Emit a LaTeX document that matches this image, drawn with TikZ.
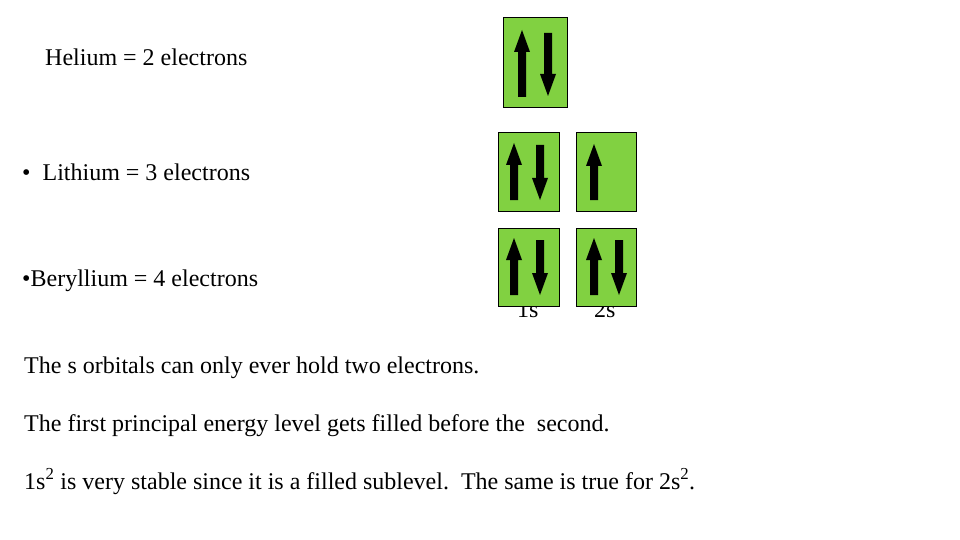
\documentclass[tikz,border=0pt]{standalone}
\usepackage{fontspec}
\setmainfont{Liberation Serif}
\definecolor{boxg}{RGB}{129,209,65}
\newcommand\upar[3]{\fill (#1-4,#3) -- (#1-4,#2+22) -- (#1-8,#2+22) -- (#1,#2) -- (#1+8,#2+22) -- (#1+4,#2+22) -- (#1+4,#3) -- cycle;}
\newcommand\dnar[3]{\fill (#1-4,#2) -- (#1-4,#3-22) -- (#1-8,#3-22) -- (#1,#3) -- (#1+8,#3-22) -- (#1+4,#3-22) -- (#1+4,#2) -- cycle;}
\begin{document}
\begin{tikzpicture}[x=1pt,y=-1pt,
  txt/.style={anchor=base west,inner sep=0pt,font=\fontsize{24}{28}\selectfont},
  orb/.style={fill=boxg,draw=black,line width=1pt}]
\useasboundingbox (0,0) rectangle (960,540);
\node[txt] (he) at (45,66) {Helium = 2 electrons};
\node[txt] (li) at (22,180) {\textbullet\ \ Lithium = 3 electrons};
\node[txt] (be) at (22,286) {\textbullet Beryllium = 4 electrons};
\node[txt] (l1) at (517,317) {1s};
\node[txt] (l2) at (594,317) {2s};
\node[txt] (t1) at (24,373) {The s orbitals can only ever hold two electrons.};
\node[txt] (t2) at (24,431) {The first principal energy level gets filled before the\ \ second.};
\node[txt] (t3) at (24,489) {1s\textsuperscript{2} is very stable since it is a filled sublevel.\ \ The same is true for 2s\textsuperscript{2}.};
% helium
\draw[orb] (503,18) rectangle (567,108);
\upar{522}{30}{97}\dnar{548}{33}{96}
% lithium
\draw[orb] (498,133) rectangle (559,211);
\draw[orb] (576,133) rectangle (636,211);
\upar{514}{143}{200}\dnar{540}{145}{200}
\upar{594}{144}{200}
% beryllium
\draw[orb] (498,228) rectangle (559,306);
\draw[orb] (576,228) rectangle (636,306);
\upar{514}{238}{295}\dnar{540}{240}{295}
\upar{594}{238}{295}\dnar{619}{240}{295}
\end{tikzpicture}
\end{document}
